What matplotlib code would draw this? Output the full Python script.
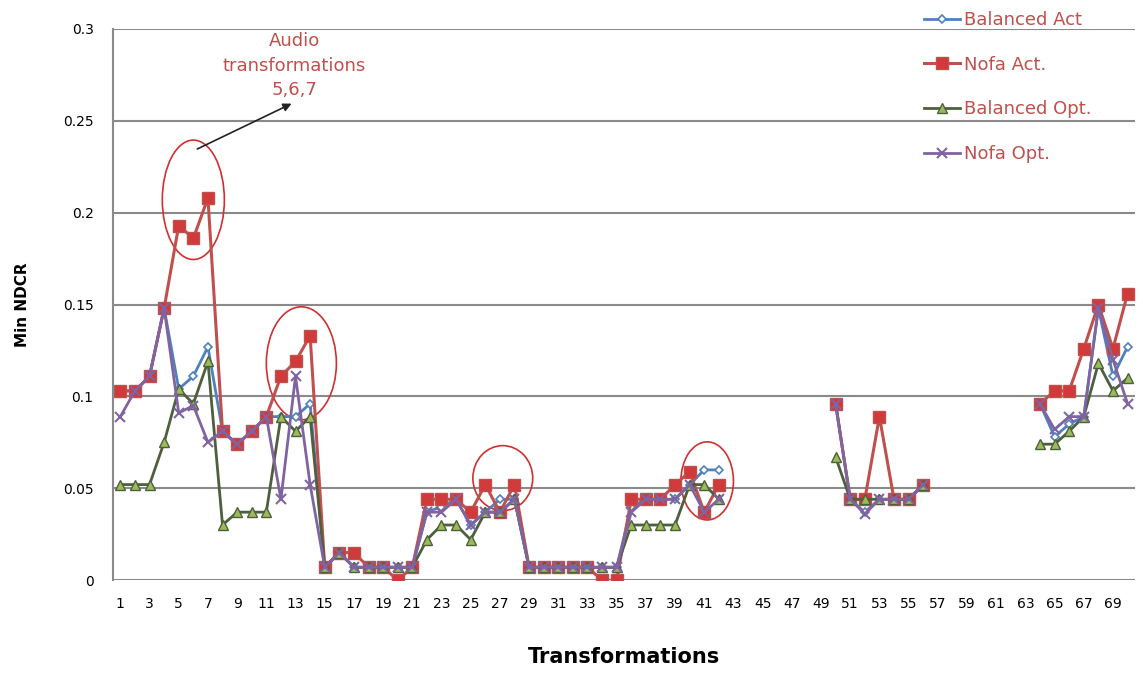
import numpy as np
import matplotlib.pyplot as plt
from matplotlib.patches import Ellipse

nan = np.nan
transforms = np.arange(1, 71)

balanced_act = [0.103, 0.103, 0.111, 0.148, 0.104, 0.111, 0.127, 0.081, 0.074, 0.081,
                0.089, 0.089, 0.089, 0.096, 0.007, 0.015, 0.007, 0.007, 0.007, 0.007,
                0.007, 0.037, 0.040, 0.044, 0.030, 0.037, 0.044, 0.044, 0.007, 0.007,
                0.007, 0.007, 0.007, 0.007, 0.007, 0.040, 0.044, 0.044, 0.044, 0.052,
                0.060, 0.060, nan, nan, nan, nan, nan, nan, nan, 0.096,
                0.044, 0.037, 0.044, 0.044, 0.044, 0.052, nan, nan, nan, nan,
                nan, nan, nan, 0.096, 0.078, 0.085, 0.089, 0.148, 0.111, 0.127]
nofa_act = [0.103, 0.103, 0.111, 0.148, 0.193, 0.186, 0.208, 0.081, 0.074, 0.081,
            0.089, 0.111, 0.119, 0.133, 0.007, 0.015, 0.015, 0.007, 0.007, 0.000,
            0.007, 0.044, 0.044, 0.044, 0.037, 0.052, 0.037, 0.052, 0.007, 0.007,
            0.007, 0.007, 0.007, 0.000, 0.000, 0.044, 0.044, 0.044, 0.052, 0.059,
            0.037, 0.052, nan, nan, nan, nan, nan, nan, nan, 0.096,
            0.044, 0.044, 0.089, 0.044, 0.044, 0.052, nan, nan, nan, nan,
            nan, nan, nan, 0.096, 0.103, 0.103, 0.126, 0.150, 0.126, 0.156]
balanced_opt = [0.052, 0.052, 0.052, 0.075, 0.104, 0.096, 0.119, 0.030, 0.037, 0.037,
                0.037, 0.089, 0.081, 0.089, 0.007, 0.015, 0.007, 0.007, 0.007, 0.007,
                0.007, 0.022, 0.030, 0.030, 0.022, 0.037, 0.037, 0.044, 0.007, 0.007,
                0.007, 0.007, 0.007, 0.007, 0.007, 0.030, 0.030, 0.030, 0.030, 0.052,
                0.052, 0.044, nan, nan, nan, nan, nan, nan, nan, 0.067,
                0.044, 0.044, 0.044, 0.044, 0.044, 0.052, nan, nan, nan, nan,
                nan, nan, nan, 0.074, 0.074, 0.081, 0.089, 0.118, 0.103, 0.110]
nofa_opt = [0.089, 0.103, 0.111, 0.148, 0.091, 0.095, 0.075, 0.081, 0.074, 0.081,
            0.089, 0.044, 0.111, 0.052, 0.007, 0.015, 0.007, 0.007, 0.007, 0.007,
            0.007, 0.037, 0.037, 0.044, 0.030, 0.037, 0.037, 0.044, 0.007, 0.007,
            0.007, 0.007, 0.007, 0.007, 0.007, 0.037, 0.044, 0.044, 0.044, 0.052,
            0.037, 0.044, nan, nan, nan, nan, nan, nan, nan, 0.096,
            0.044, 0.036, 0.044, 0.044, 0.044, 0.052, nan, nan, nan, nan,
            nan, nan, nan, 0.096, 0.082, 0.089, 0.089, 0.148, 0.120, 0.096]

# (center x, center y, width, height) of the red highlight rings
rings = [(6.0, 0.207, 4.25, 0.065), (13.4, 0.118, 4.8, 0.0615),
         (27.2, 0.0555, 4.1, 0.0354), (41.2, 0.054, 3.6, 0.0425)]

red_txt = '#C0504D'

fig = plt.figure(figsize=(11.43, 6.73), dpi=100)
ax = fig.add_axes([0.0989, 0.138, 0.894, 0.819])

ax.plot(transforms, balanced_act, color='#4F81BD', lw=2, marker='D', ms=4.5,
        mfc='white', mec='#4F81BD', mew=1.2, label='Balanced Act')
ax.plot(transforms, nofa_act, color='#C0504D', lw=2.2, marker='s', ms=8,
        mfc='#D03A3A', mec='#C0504D', label='Nofa Act.')
ax.plot(transforms, balanced_opt, color='#4E5F3E', lw=2, marker='^', ms=7,
        mfc='#9BBB59', mec='#4E5F3E', mew=1, label='Balanced Opt.')
ax.plot(transforms, nofa_opt, color='#8064A2', lw=2, marker='x', ms=7,
        mew=1.5, label='Nofa Opt.')

for cx, cy, w, h in rings:
    ax.add_patch(Ellipse((cx, cy), w, h, fill=False, ec='#D03030', lw=1.2))

ax.annotate('', xy=(12.9, 0.260), xytext=(6.1, 0.234),
            arrowprops=dict(arrowstyle='-|>', color='#222222', lw=1.2,
                            mutation_scale=12))
ax.text(12.9, 0.280, 'Audio\ntransformations\n5,6,7', color=red_txt,
        fontsize=13, ha='center', va='center', linespacing=1.45)

ax.set_xlim(0.5, 70.5)
ax.set_ylim(0, 0.3)
ax.set_yticks([0, 0.05, 0.1, 0.15, 0.2, 0.25, 0.3])
ax.set_yticklabels(['0', '0.05', '0.1', '0.15', '0.2', '0.25', '0.3'])
ax.set_xticks(transforms[::2])
ax.set_xticklabels([str(t) for t in transforms[::2]])
ax.tick_params(axis='x', length=0, pad=12, labelsize=10)
ax.tick_params(axis='y', length=0, pad=14, labelsize=10)
ax.grid(axis='y', color='#8A8A8A', lw=1.5)
ax.set_axisbelow(True)
for s in ['top', 'right', 'bottom']:
    ax.spines[s].set_visible(False)
ax.spines['left'].set_color('#8A8A8A')
ax.spines['left'].set_linewidth(1.5)

ax.set_ylabel('Min NDCR', fontsize=11, fontweight='bold', labelpad=24)
ax.set_xlabel('Transformations', fontsize=15, fontweight='bold', labelpad=26)

leg = ax.legend(loc='upper left', bbox_to_anchor=(915 / 1143, 1 - 2 / 673),
                bbox_transform=fig.transFigure, frameon=False, fontsize=13,
                handlelength=2.0, handletextpad=0.2, labelspacing=1.48,
                borderpad=0, labelcolor=red_txt)

fig.savefig('out.png', dpi=100)
